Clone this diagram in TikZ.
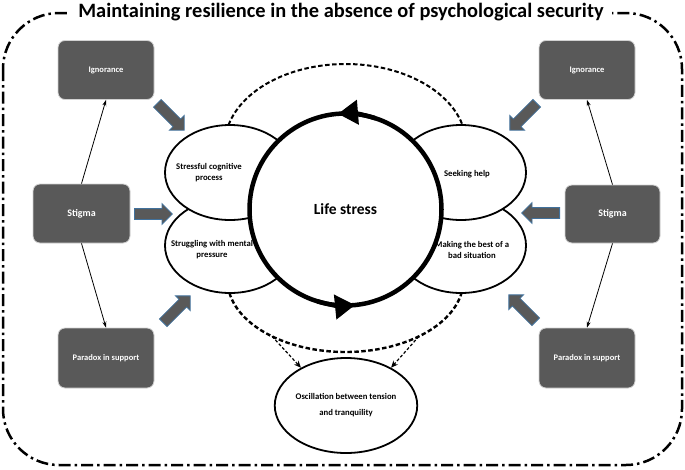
\documentclass[tikz,border=0pt]{standalone}
\usepackage{fontspec}
\setmainfont{Carlito}
\usetikzlibrary{shapes.geometric,shapes.arrows,arrows.meta}
\definecolor{boxgrey}{HTML}{595959}
\definecolor{arrowedge}{HTML}{41719C}
\begin{document}
\begin{tikzpicture}[x=1pt,y=-1pt,
  gbox/.style={draw=gray!35,line width=0.8pt,fill=boxgrey,rounded corners=7pt,
    text=white,font=\bfseries\fontsize{8.5}{10}\selectfont,inner sep=0pt,
    minimum width=96pt,minimum height=59pt},
  sbox/.style={gbox,font=\bfseries\fontsize{10}{12}\selectfont},
  blockarr/.style={single arrow,fill=boxgrey,draw=arrowedge,line width=0.8pt,
    minimum height=38pt,inner xsep=0pt,inner ysep=5pt,
    single arrow head extend=5pt,anchor=tail},
  thinarr/.style={line width=0.8pt,-{Stealth[length=6pt,width=4pt]}},
  oval/.style={ellipse,draw,line width=1.8pt,fill=white,
    minimum width=130pt,minimum height=95pt,inner sep=0pt},
  lbl/.style={font=\bfseries\fontsize{8.7}{11}\selectfont,align=center,inner sep=0pt},
  dtop/.style={line width=2pt,dash pattern=on 4.5pt off 2.5pt},
  dbot/.style={line width=2.4pt,dash pattern=on 4.5pt off 2.5pt},
  dotarr/.style={line width=1.2pt,dash pattern=on 3pt off 2pt,
    -{Stealth[length=7pt,width=6pt]}},
  framestyle/.style={line width=2.5pt,dash pattern=on 12pt off 4pt on 2.5pt off 4pt}
]
\useasboundingbox (0,0) rectangle (685,469);
% frame and title
\draw[framestyle,rounded corners=56pt] (3,13) rectangle (682,465);
\node[font=\bfseries\fontsize{20.4}{22}\selectfont,fill=white,inner xsep=8pt,inner ysep=2pt,anchor=base]
  (title) at (341,17.5) {Maintaining resilience in the absence of psychological security};

% grey boxes
\node[gbox] (ignL) at (106,70) {Ignorance};
\node[sbox,minimum width=97pt] (stigL) at (81.5,213.5) {Stigma};
\node[gbox,minimum height=60pt] (parL) at (106,358) {Paradox in support};
\node[gbox] (ignR) at (587,70) {Ignorance};
\node[sbox,minimum width=95pt,minimum height=58pt] (stigR) at (612.5,214) {Stigma};
\node[gbox,minimum height=60pt] (parR) at (587,358) {Paradox in support};

\draw[thinarr] (stigL.north) -- (ignL.south);
\draw[thinarr] (stigL.south) -- (parL.north);
\draw[thinarr] (stigR.north) -- (ignR.south);
\draw[thinarr] (stigR.south) -- (parR.north);

% block arrows
\node[blockarr,rotate=-45] (baLT) at (157,103) {};
\node[blockarr,rotate=0] (baLM) at (134,214) {};
\node[blockarr,rotate=45] (baLB) at (163,323) {};
\node[blockarr,rotate=-135] (baRT) at (537,103) {};
\node[blockarr,rotate=180] (baRM) at (560,213) {};
\node[blockarr,rotate=135] (baRB) at (536,322) {};

% ellipses
\node[oval] (elBL) at (230,245.5) {};
\node[oval] (elTL) at (230,172.5) {};
\node[oval] (elBR) at (461,245.5) {};
\node[oval] (elTR) at (461,172.5) {};

% dashed arcs
\draw[dtop] plot[smooth,domain=165.7:14.3,samples=61] ({345.5+120.7*cos(\x)},{145-81*sin(\x)});
\draw[dbot] plot[smooth,domain=190.4:349.6,samples=61] ({345.5+118*cos(\x)},{280-72*sin(\x)});
\coordinate (osl) at ({345.5+118*cos(231.5)},{280-72*sin(231.5)});
\coordinate (osr) at ({345.5+118*cos(308.5)},{280-72*sin(308.5)});

% oscillation ellipse
\node[ellipse,draw,line width=1.8pt,minimum width=118pt,minimum height=95pt,inner sep=0pt,
  font=\bfseries\fontsize{8.7}{16}\selectfont,align=center] (osc) at (346,405.5)
  {Oscillation between tension\\and tranquility};
\draw[dotarr] (osl) -- (osc.140);
\draw[dotarr] (osr) -- (osc.40);

% central circle
\node[circle,draw,line width=4.5pt,fill=white,minimum size=192pt,inner sep=0pt,
  font=\bfseries\fontsize{15.5}{18}\selectfont] (life) at (345.5,209.5) {Life stress};
\draw[line width=4.5pt,-{Triangle[length=20pt,width=24pt]}]
  ([shift={(72:96pt)}]life.center) arc[start angle=72,end angle=94.5,radius=96pt];
\draw[line width=4.5pt,-{Triangle[length=20pt,width=24pt]}]
  ([shift={(-107:96pt)}]life.center) arc[start angle=-107,end angle=-84.3,radius=96pt];

% ellipse labels
\node[lbl] (tTL) at (209,173) {Stressful cognitive\\process};
\node[lbl] (tBL) at (212,249.5) {Struggling with mental\\pressure};
\node[lbl] (tTR) at (467,174) {Seeking help};
\node[lbl] (tBR) at (472,249.5) {Making the best of a\\bad situation};
\end{tikzpicture}
\end{document}
